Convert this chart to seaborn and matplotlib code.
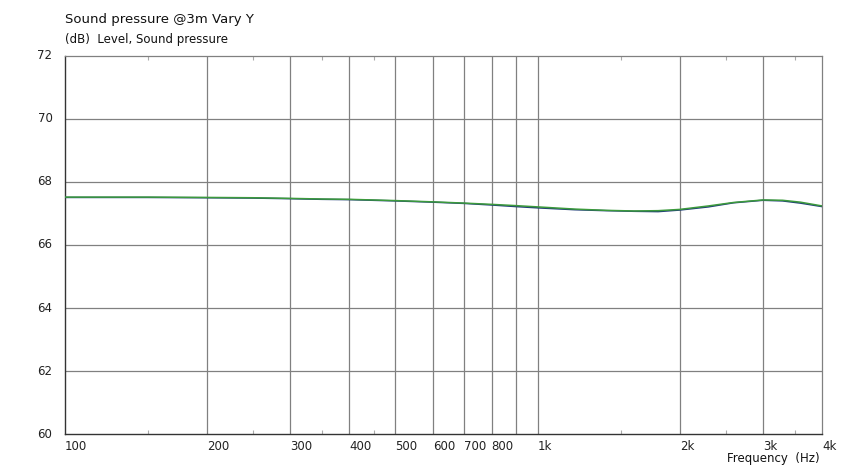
import numpy as np
import pandas as pd
import matplotlib
matplotlib.use("Agg")
import matplotlib.pyplot as plt
import seaborn as sns
from matplotlib.ticker import FixedLocator, NullFormatter

# frequency response (Hz, dB)
freq = [100, 150, 200, 250, 300, 350, 400, 500, 600, 700, 800, 900, 1000,
        1200, 1400, 1600, 1800, 2000, 2300, 2600, 3000, 3300, 3600, 4000]
level_green = [67.52, 67.52, 67.51, 67.50, 67.48, 67.46, 67.45, 67.41, 67.37,
               67.33, 67.29, 67.25, 67.21, 67.14, 67.10, 67.08, 67.09, 67.13,
               67.24, 67.35, 67.43, 67.42, 67.36, 67.24]
level_blue = [67.51, 67.51, 67.50, 67.49, 67.47, 67.45, 67.44, 67.40, 67.36,
              67.32, 67.27, 67.22, 67.18, 67.12, 67.09, 67.07, 67.06, 67.11,
              67.21, 67.34, 67.42, 67.40, 67.33, 67.22]

major_ticks = [100, 200, 300, 400, 500, 600, 700, 800, 1000, 2000, 3000, 4000]
major_labels = ["100", "200", "300", "400", "500", "600", "700", "800",
                "1k", "2k", "3k", "4k"]
grid_freqs = [200, 300, 400, 500, 600, 700, 800, 900, 1000, 2000, 3000]
minor_ticks = [150, 250, 350, 450, 1500, 2500, 3500]
y_ticks = [60, 62, 64, 66, 68, 70, 72]

df = pd.DataFrame({"freq": freq + freq,
                   "level": level_blue + level_green,
                   "curve": ["a"] * len(freq) + ["b"] * len(freq)})

sns.set_style("white")
plt.rcParams["font.family"] = ["DejaVu Sans"]

fig = plt.figure(figsize=(8.44, 4.69), dpi=100)
ax = fig.add_axes([65 / 844, 35 / 469, 757 / 844, 378 / 469])

sns.lineplot(data=df, x="freq", y="level", hue="curve",
             palette={"a": "#1f3c78", "b": "#3c9a3c"},
             linewidth=1.1, legend=False, ax=ax, zorder=3)

ax.set_xscale("log")
ax.set_xlim(100, 4000)
ax.set_ylim(60, 72)

for f in grid_freqs:
    ax.axvline(f, color="#808080", linewidth=0.9, zorder=1)
for y in y_ticks[1:-1]:
    ax.axhline(y, color="#808080", linewidth=0.9, zorder=1)

ax.xaxis.set_major_locator(FixedLocator(major_ticks))
ax.set_xticklabels(major_labels)
ax.xaxis.set_minor_locator(FixedLocator(minor_ticks))
ax.xaxis.set_minor_formatter(NullFormatter())
ax.tick_params(axis="x", which="major", length=0, pad=4, labelsize=8.5,
               colors="#222222")
ax.tick_params(axis="x", which="minor", direction="in", length=3,
               top=True, bottom=True, color="#aaaaaa", width=0.8)
for lab in ax.get_xticklabels():
    lab.set_horizontalalignment("left")

ax.set_yticks(y_ticks)
ax.tick_params(axis="y", which="major", length=0, pad=9, labelsize=8.5,
               colors="#222222")
for lab in ax.get_yticklabels():
    lab.set_verticalalignment("center")

ax.set_xlabel("")
ax.set_ylabel("")

for side in ["left", "bottom"]:
    ax.spines[side].set_color("#333333")
    ax.spines[side].set_linewidth(1.0)
for side in ["top", "right"]:
    ax.spines[side].set_color("#808080")
    ax.spines[side].set_linewidth(0.9)

fig.text(65 / 844, 1 - 20 / 469, "Sound pressure @3m Vary Y", fontsize=9.5,
         va="center", ha="left", color="#111111")
fig.text(65 / 844, 1 - 39 / 469, "(dB)  Level, Sound pressure", fontsize=8.5,
         va="center", ha="left", color="#111111")
fig.text(820 / 844, 1 - 458 / 469, "Frequency  (Hz)", fontsize=8.5,
         va="center", ha="right", color="#111111")

fig.savefig("out.png", dpi=100, facecolor="white")
